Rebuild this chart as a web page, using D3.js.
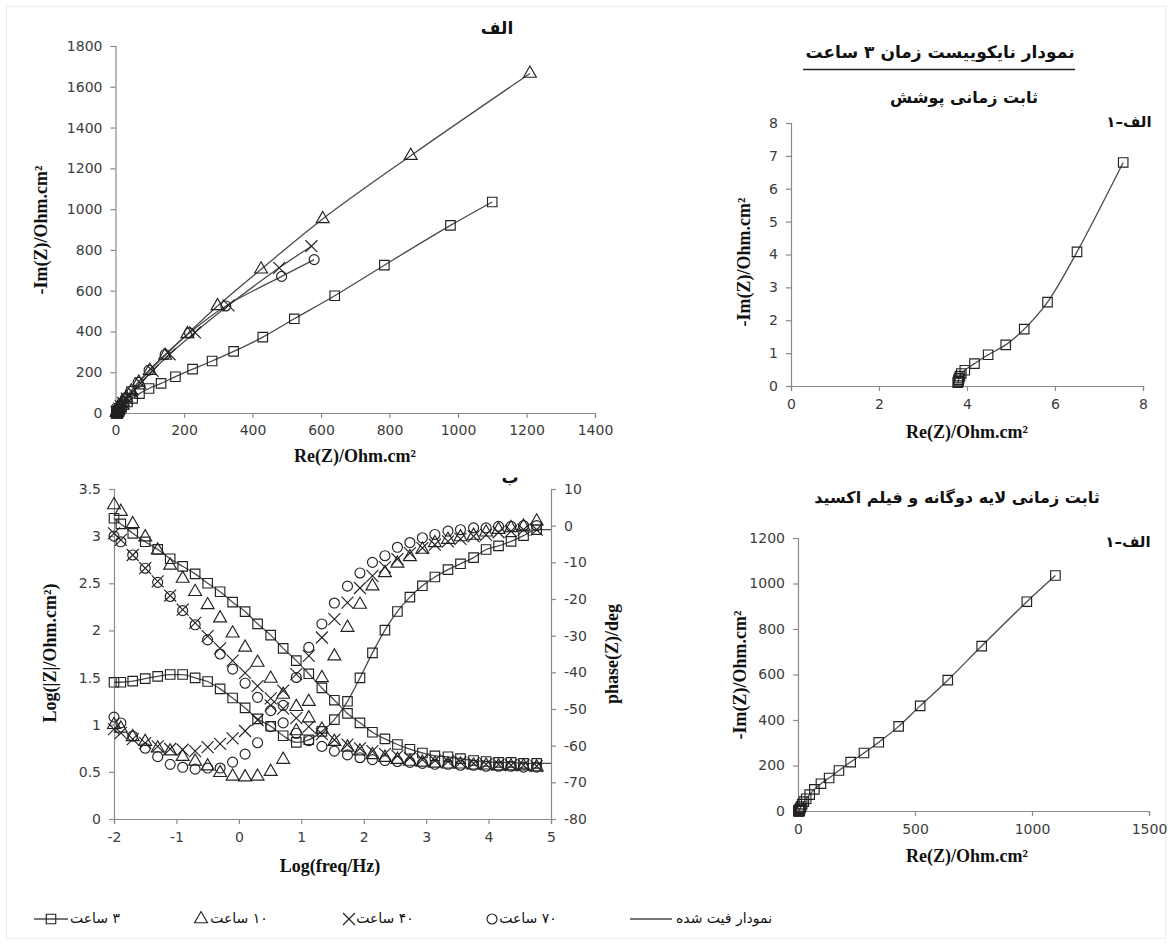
<!DOCTYPE html>
<html><head><meta charset="utf-8">
<script src="https://cdn.jsdelivr.net/npm/d3@7"></script>
<style>body{margin:0;background:#fff}svg{display:block}</style>
</head><body>
<svg id="c" width="1172" height="945"></svg>
<script>
// ---------------- DATA ----------------
// Nyquist, 3 h (squares) in ascending frequency order
const sqRe = [1100, 978, 785, 640, 522, 430, 345, 282, 225, 175, 133, 98, 70, 50, 35, 25, 18, 13.5, 10.8, 8.5, 7.55, 6.5, 5.83, 5.3, 4.88, 4.48, 4.17, 3.95, 3.87, 3.84, 3.82, 3.81, 3.80, 3.80, 3.79];
const sqIm = [1035, 920, 725, 575, 462, 372, 302, 255, 215, 178, 145, 120, 95, 72, 54, 41, 30, 20, 14.5, 9.5, 6.8, 4.08, 2.55, 1.73, 1.25, 0.95, 0.68, 0.48, 0.38, 0.30, 0.24, 0.19, 0.15, 0.12, 0.10];
// Nyquist, 10 h (triangles)
const triRe = [1210, 862, 605, 425, 298, 210, 145, 100, 68, 46, 31, 21, 14.5, 10, 7.5, 6, 5, 4.5, 4.2, 4.0];
const triIm = [1665, 1262, 952, 705, 525, 388, 282, 208, 150, 107, 76, 53, 36, 24, 15, 10, 6.5, 4, 2.5, 1.5];
// Nyquist, 40 h (crosses)
const xRe = [572, 478, 330, 232, 158, 108, 73, 49, 33, 22, 15, 10.5, 7.5, 5.8, 4.8, 4.3, 4.0];
const xIm = [818, 712, 528, 395, 288, 207, 146, 102, 71, 49, 33, 22, 14, 8.5, 5, 3, 1.5];
// Nyquist, 70 h (circles)
const ciRe = [580, 485, 322, 216, 145, 98, 66, 44, 29, 19, 12.5, 8.5, 6.2, 5, 4.3, 4.0];
const ciIm = [752, 670, 525, 393, 287, 210, 150, 106, 74, 51, 34, 22, 13, 7.5, 4, 2];

// Bode
const logf = [-2.0, -1.89, -1.7, -1.5, -1.3, -1.1, -0.9, -0.7, -0.5, -0.3, -0.1, 0.1, 0.3, 0.51, 0.71, 0.92, 1.12, 1.33, 1.53, 1.74, 1.94, 2.14, 2.34, 2.54, 2.74, 2.94, 3.14, 3.35, 3.55, 3.76, 3.96, 4.16, 4.36, 4.56, 4.77];
const sqMod = [3.19, 3.13, 3.03, 2.94, 2.86, 2.76, 2.68, 2.60, 2.50, 2.41, 2.30, 2.20, 2.07, 1.95, 1.81, 1.68, 1.54, 1.39, 1.26, 1.12, 1.02, 0.92, 0.85, 0.79, 0.74, 0.70, 0.67, 0.66, 0.64, 0.62, 0.61, 0.60, 0.60, 0.59, 0.59];
const sqPh = [-42.7, -42.7, -42.4, -41.7, -41.1, -40.6, -40.6, -41.5, -42.5, -44.5, -47.0, -49.7, -52.7, -54.7, -57.3, -59.1, -58.4, -56.1, -52.9, -47.9, -41.5, -34.7, -28.5, -23.4, -19.5, -16.4, -14.0, -12.0, -10.4, -8.7, -6.5, -5.5, -4.3, -2.7, -1.1];
const triMod = [3.33, 3.26, 3.13, 2.99, 2.85, 2.69, 2.55, 2.41, 2.27, 2.13, 1.97, 1.82, 1.66, 1.49, 1.32, 1.19, 1.07, 0.95, 0.82, 0.76, 0.72, 0.68, 0.65, 0.63, 0.61, 0.60, 0.59, 0.58, 0.58, 0.57, 0.57, 0.56, 0.56, 0.56, 0.55];
const triPh = [-54.3, -55.3, -57.6, -58.9, -60.7, -61.5, -63.0, -64.3, -65.6, -67.4, -68.4, -68.6, -68.4, -67.1, -63.8, -56.0, -48.0, -41.5, -35.6, -27.8, -21.5, -16.5, -12.9, -10.3, -8.5, -6.5, -4.7, -3.8, -3.1, -2.7, -1.8, -1.1, -0.6, -0.2, 1.2];
const xMod = [3.03, 2.96, 2.80, 2.66, 2.52, 2.37, 2.22, 2.08, 1.94, 1.81, 1.68, 1.55, 1.41, 1.28, 1.17, 1.07, 0.98, 0.90, 0.84, 0.79, 0.75, 0.72, 0.69, 0.67, 0.65, 0.63, 0.62, 0.61, 0.60, 0.59, 0.58, 0.58, 0.57, 0.57, 0.56];
const xPh = [-55.5, -56.5, -58.2, -59.3, -60.2, -60.9, -61.1, -61.5, -60.4, -59.5, -58.0, -56.0, -53.0, -49.0, -45.0, -40.5, -35.5, -30.5, -25.5, -21.0, -17.0, -13.7, -11.3, -9.1, -7.5, -6.1, -5.2, -4.3, -3.6, -2.9, -2.5, -1.8, -1.5, -1.1, -1.1];
const ciMod = [3.00, 2.94, 2.80, 2.66, 2.51, 2.36, 2.21, 2.06, 1.90, 1.75, 1.59, 1.44, 1.29, 1.15, 1.02, 0.91, 0.83, 0.77, 0.72, 0.68, 0.65, 0.63, 0.62, 0.61, 0.60, 0.59, 0.58, 0.58, 0.57, 0.57, 0.56, 0.56, 0.56, 0.55, 0.55];
const ciPh = [-52.2, -53.8, -57.4, -60.7, -63.0, -65.1, -65.9, -66.4, -66.1, -66.1, -64.5, -62.3, -59.2, -54.8, -49.0, -41.4, -33.2, -26.8, -21.1, -16.5, -12.9, -10.0, -8.2, -5.9, -4.6, -3.3, -2.4, -1.5, -1.1, -0.6, -0.6, -0.2, -0.2, 0.0, 0.0];

// Ticks
const ticksA_x = [0, 200, 400, 600, 800, 1000, 1200, 1400];
const ticksA_y = [0, 200, 400, 600, 800, 1000, 1200, 1400, 1600, 1800];
const ticksB_x = [-2, -1, 0, 1, 2, 3, 4, 5];
const ticksB_yl = [0, 0.5, 1, 1.5, 2, 2.5, 3, 3.5];
const ticksB_yr = [-80, -70, -60, -50, -40, -30, -20, -10, 0, 10];
const ticksC = [0, 2, 4, 6, 8];
const ticksC_y = [0, 1, 2, 3, 4, 5, 6, 7, 8];
const ticksD_x = [0, 500, 1000, 1500];
const ticksD_y = [0, 200, 400, 600, 800, 1000, 1200];

// Texts
const T = {
  titleA: "الف",
  titleB: "ب",
  nyqTitle: "نمودار نایکوییست زمان ۳ ساعت",
  coat: "ثابت زمانی پوشش",
  dl: "ثابت زمانی لایه دوگانه و فیلم اکسید",
  a1: "الف–۱",
  reLab: "Re(Z)/Ohm.cm²",
  imLab: "-Im(Z)/Ohm.cm²",
  modLab: "Log(|Z|/Ohm.cm²)",
  phLab: "phase(Z)/deg",
  fLab: "Log(freq/Hz)"
};
const legendLabels = ["۳ ساعت", "۱۰ ساعت", "۴۰ ساعت", "۷۰ ساعت", "نمودار فیت شده"];

// ---------------- DRAW ----------------
const svg = d3.select('#c');
svg.append('rect').attr('x', 6.5).attr('y', 6.5).attr('width', 1159).attr('height', 932)
  .attr('fill', 'none').attr('stroke', '#ececec');

const AX = '#8a8a8a', LN = '#4a4a4a', MK = '#222';
const tickFont = '14px "DejaVu Sans", sans-serif';
const titleFont = 'bold 18px "Liberation Serif", serif';
const faFont = '"DejaVu Sans", sans-serif';

function styleAxis(g) {
  g.selectAll('path,line').attr('stroke', AX).attr('stroke-width', 1.2);
  g.selectAll('text').attr('fill', '#3c3c3c').style('font', tickFont);
  g.attr('font-family', null).attr('font-size', null);
}
const fmt = d => String(d);

const symb = {
  sq: d3.symbol(d3.symbolSquare, 90)(),
  tri: d3.symbol(d3.symbolTriangle, 72)(),
  x: d3.symbol(d3.symbolTimes, 95)(),
  ci: d3.symbol(d3.symbolCircle, 78)()
};
function markers(g, pts, type) {
  g.selectAll(null).data(pts).enter().append('path')
    .attr('d', symb[type])
    .attr('transform', d => `translate(${d[0]},${d[1]})`)
    .attr('fill', 'none').attr('stroke', MK).attr('stroke-width', 1.15);
}
function curve(g, pts, c) {
  g.append('path').attr('d', d3.line().curve(c || d3.curveCatmullRom.alpha(0.5))(pts))
    .attr('fill', 'none').attr('stroke', LN).attr('stroke-width', 1.3);
}
function label(x, y, txt, opts) {
  const t = svg.append('text').attr('x', x).attr('y', y).attr('text-anchor', opts.anchor || 'middle')
    .attr('dominant-baseline', 'middle').style('font', opts.font).attr('fill', opts.fill || '#111');
  if (opts.rot) t.attr('transform', `rotate(${opts.rot},${x},${y})`);
  if (opts.rtl) t.attr('direction', 'rtl');
  t.text(txt);
  return t;
}

// ===== Panel A (Nyquist all times) =====
const xA = d3.scaleLinear([0, 1400], [115.5, 595]);
const yA = d3.scaleLinear([0, 1800], [413, 46]);
{
  const g = svg.append('g');
  g.append('g').attr('transform', `translate(0,${yA(0)})`)
    .call(d3.axisBottom(xA).tickValues(ticksA_x).tickFormat(fmt).tickSizeOuter(0).tickSize(5).tickPadding(7)).call(styleAxis);
  g.append('g').attr('transform', `translate(${xA(0)},0)`)
    .call(d3.axisLeft(yA).tickValues(ticksA_y).tickFormat(fmt).tickSizeOuter(0).tickSize(5).tickPadding(8)).call(styleAxis);
  const ser = [[triRe, triIm, 'tri'], [xRe, xIm, 'x'], [ciRe, ciIm, 'ci'], [sqRe, sqIm, 'sq']];
  ser.forEach(([r, i]) => curve(g, r.map((v, k) => [xA(v), yA(i[k])])));
  ser.forEach(([r, i, t]) => markers(g, r.map((v, k) => [xA(v), yA(i[k])]), t));
  label(497, 29, T.titleA, {font: 'bold 17px ' + faFont, rtl: true});
  label(355, 458, T.reLab, {font: titleFont});
  label(43, 230, T.imLab, {font: titleFont, rot: -90});
}

// ===== Panel B (Bode) =====
const xB = d3.scaleLinear([-2, 5], [114, 551]);
const yBL = d3.scaleLinear([0, 3.5], [819, 489]);
const yBR = d3.scaleLinear([-80, 10], [819, 489]);
{
  const g = svg.append('g');
  g.append('g').attr('transform', `translate(0,${yBL(0)})`)
    .call(d3.axisBottom(xB).tickValues(ticksB_x).tickFormat(fmt).tickSizeOuter(0).tickSize(5).tickPadding(8)).call(styleAxis);
  g.append('g').attr('transform', `translate(${xB(-2)},0)`)
    .call(d3.axisLeft(yBL).tickValues(ticksB_yl).tickFormat(fmt).tickSizeOuter(0).tickSize(5).tickPadding(8)).call(styleAxis);
  g.append('g').attr('transform', `translate(${xB(5)},0)`)
    .call(d3.axisRight(yBR).tickValues(ticksB_yr).tickFormat(fmt).tickSizeOuter(0).tickSize(5).tickPadding(8)).call(styleAxis);
  const xEnd = xB.domain()[1];
  const modPts = logf.map((f, k) => [xB(f), yBL(sqMod[k])]);
  modPts.push([xB(xEnd), yBL(sqMod[sqMod.length - 1])]);
  const phPts = logf.map((f, k) => [xB(f), yBR(sqPh[k])]);
  phPts.push([xB(xEnd), yBR(sqPh[sqPh.length - 1])]);
  curve(g, modPts, d3.curveMonotoneX);
  curve(g, phPts, d3.curveMonotoneX);
  const ser = [[sqMod, sqPh, 'sq'], [triMod, triPh, 'tri'], [xMod, xPh, 'x'], [ciMod, ciPh, 'ci']];
  ser.forEach(([m, p, t]) => {
    markers(g, logf.map((f, k) => [xB(f), yBL(m[k])]), t);
    markers(g, logf.map((f, k) => [xB(f), yBR(p[k])]), t);
  });
  label(510, 478, T.titleB, {font: 'bold 17px ' + faFont, rtl: true});
  label(330, 868, T.fLab, {font: titleFont});
  label(52, 653, T.modLab, {font: titleFont, rot: -90});
  label(614, 654, T.phLab, {font: titleFont, rot: -90});
}

// ===== Panel C (Nyquist 3 h, high frequency) =====
const xC = d3.scaleLinear([0, 8], [791, 1143]);
const yC = d3.scaleLinear([0, 8], [386, 123]);
{
  const g = svg.append('g');
  g.append('g').attr('transform', `translate(0,${yC(0)})`)
    .call(d3.axisBottom(xC).tickValues(ticksC).tickFormat(fmt).tickSizeOuter(0).tickSize(5).tickPadding(8)).call(styleAxis);
  g.append('g').attr('transform', `translate(${xC(0)},0)`)
    .call(d3.axisLeft(yC).tickValues(ticksC_y).tickFormat(fmt).tickSizeOuter(0).tickSize(5).tickPadding(8)).call(styleAxis);
  const pts = sqRe.map((v, k) => [v, sqIm[k]]).filter(d => d[0] <= xC.domain()[1] && d[1] <= yC.domain()[1]);
  const px = pts.map(d => [xC(d[0]), yC(d[1])]);
  curve(g, px);
  markers(g, px, 'sq');
  label(940, 53, T.nyqTitle, {font: 'bold 17px ' + faFont, rtl: true});
  svg.append('line').attr('x1', 803).attr('x2', 1075).attr('y1', 69.5).attr('y2', 69.5).attr('stroke', '#222').attr('stroke-width', 1.3);
  label(964, 98, T.coat, {font: 'bold 16px ' + faFont, rtl: true});
  label(1129, 122, T.a1, {font: 'bold 15px ' + faFont, rtl: true});
  label(967, 434, T.reLab, {font: titleFont});
  label(746, 262, T.imLab, {font: titleFont, rot: -90});
}

// ===== Panel D (Nyquist 3 h, low frequency) =====
const xD = d3.scaleLinear([0, 1500], [798, 1149]);
const yD = d3.scaleLinear([0, 1200], [811, 538]);
{
  const g = svg.append('g');
  g.append('g').attr('transform', `translate(0,${yD(0)})`)
    .call(d3.axisBottom(xD).tickValues(ticksD_x).tickFormat(fmt).tickSizeOuter(0).tickSize(5).tickPadding(8)).call(styleAxis);
  g.append('g').attr('transform', `translate(${xD(0)},0)`)
    .call(d3.axisLeft(yD).tickValues(ticksD_y).tickFormat(fmt).tickSizeOuter(0).tickSize(5).tickPadding(8)).call(styleAxis);
  const px = sqRe.map((v, k) => [xD(v), yD(sqIm[k])]);
  curve(g, px);
  markers(g, px, 'sq');
  label(957, 498, T.dl, {font: 'bold 16px ' + faFont, rtl: true});
  label(1128, 542, T.a1, {font: 'bold 15px ' + faFont, rtl: true});
  label(967, 858, T.reLab, {font: titleFont});
  label(742, 675, T.imLab, {font: titleFont, rot: -90});
}

// ===== Legend =====
{
  const g = svg.append('g');
  const ly = 919;
  const items = [
    {type: 'sq', line: [34, 68], mx: 51, tx: 95},
    {type: 'tri', mx: 201, tx: 239},
    {type: 'x', mx: 349, tx: 385},
    {type: 'ci', mx: 492, tx: 528},
    {type: null, line: [630, 672], tx: 724}
  ];
  items.forEach((it, i) => {
    if (it.line) g.append('line').attr('x1', it.line[0]).attr('x2', it.line[1]).attr('y1', ly).attr('y2', ly)
      .attr('stroke', LN).attr('stroke-width', 1.3);
    if (it.type) markers(g, [[it.mx, ly]], it.type);
    label(it.tx, ly, legendLabels[i], {font: '14px ' + faFont, rtl: true});
  });
}
</script>
</body></html>
